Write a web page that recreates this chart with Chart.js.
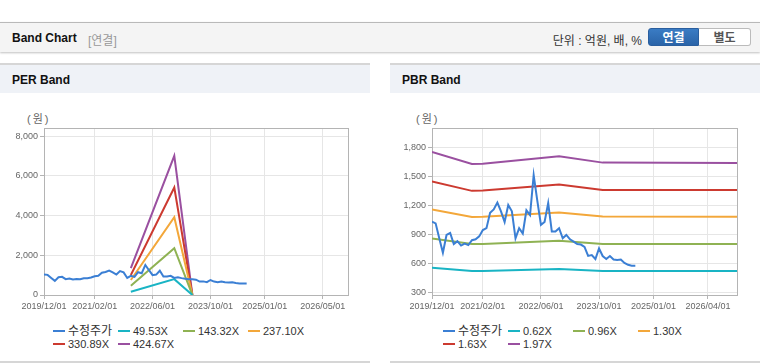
<!DOCTYPE html>
<html>
<head>
<meta charset="utf-8">
<script src="https://cdn.jsdelivr.net/npm/chart.js@4.4.1/dist/chart.umd.min.js"></script>
<style>
body { margin: 0; width: 760px; height: 364px; position: relative; overflow: hidden; background: #fff;
  font-family: 'Liberation Sans', 'Noto Sans CJK KR', sans-serif; }
.top { position: absolute; left: 0; top: 22px; width: 760px; height: 29px; background: #f4f4f4;
  border-top: 1px solid #b9b9b9; box-shadow: 0 1px 2px rgba(0,0,0,0.25); }
.top .title { position: absolute; left: 12px; top: 8px; font-size: 12px; font-weight: bold; color: #111; }
.top .sub { position: absolute; left: 88px; top: 8px; font-size: 12px; color: #999; }
.top .unit { position: absolute; right: 118px; top: 8px; font-size: 12px; color: #333; }
.btn { position: absolute; top: 5px; height: 18px; width: 51px; font-size: 12px; font-weight: bold;
  text-align: center; line-height: 18px; box-sizing: border-box; }
.btn.on { left: 648px; background: linear-gradient(#3a7cc4, #2a64a8); color: #fff; border: 1px solid #2a5e9e;
  border-radius: 3px 0 0 3px; }
.btn.off { left: 699px; background: #fff; color: #555; border: 1px solid #bbb; border-left: none;
  border-radius: 0 3px 3px 0; width: 52px; }
.panel { position: absolute; top: 63px; height: 298px; border-bottom: 2px solid #d6d6d6; }
.panel .hd { position: absolute; left: 0; top: 0; right: 0; height: 28px; background: #eff2f7;
  border-top: 2px solid #d6d6d6; }
.panel .hd span { position: absolute; left: 12px; top: 8px; font-size: 12px; font-weight: bold; color: #111; }
.unitlbl { position: absolute; top: 110px; font-size: 11px; color: #666; letter-spacing: 2px; }
canvas { position: absolute; top: 100px; }
.lg { position: absolute; font-size: 11px; color: #333; white-space: nowrap; height: 14px; line-height: 14px; }
.lg b { font-weight: normal; font-size: 12px; }
.lg i { display: inline-block; width: 12px; height: 2px; vertical-align: middle; margin-right: 3px; position: relative; top: -1px; }
</style>
</head>
<body>
<div class="top">
  <span class="title">Band Chart</span><span class="sub">[연결]</span>
  <span class="unit">단위 : 억원, 배, %</span>
  <div class="btn on">연결</div><div class="btn off">별도</div>
</div>
<div class="panel" style="left:0;width:370px"><div class="hd"><span>PER Band</span></div></div>
<div class="panel" style="left:390px;width:370px"><div class="hd"><span>PBR Band</span></div></div>
<div class="unitlbl" style="left:27px">(원)</div>
<div class="unitlbl" style="left:416px">(원)</div>
<canvas id="per" width="370" height="220" style="left:0"></canvas>
<canvas id="pbr" width="370" height="220" style="left:390px"></canvas>
<div id="legends"></div>
<script>
// months counted from 2019/12/01
const priceValues = [1032, 1015, 860, 711, 895, 915, 800, 830, 785, 805, 790, 840, 850, 880, 945, 965,
  1125, 1160, 1230, 1140, 1030, 1205, 1140, 860, 965, 910, 1150, 1100, 1516, 1250, 1000, 1030, 1225,
  930, 930, 965, 860, 895, 850, 825, 800, 795, 770, 678, 686, 645, 756, 676, 645, 676, 640, 636, 640,
  605, 585, 576, 576];

const perBandMonths = [24, 36, 41];
const per4953 = [165, 800, 0];
const per14332 = [470, 2360, 0];
const per23710 = [758, 3920, 0];
const per33089 = [1010, 5420, 0];
const per42467 = [1350, 7020, 0];

const pbrBandMonths = [0, 11, 14, 35, 47, 84];
const pbr062 = [555, 521, 522, 542, 522, 521];
const pbr096 = [858, 800, 801, 834, 802, 800];
const pbr130 = [1160, 1082, 1084, 1128, 1086, 1083];
const pbr163 = [1450, 1352, 1356, 1418, 1362, 1360];
const pbr197 = [1755, 1630, 1632, 1710, 1645, 1641];

const perTickMonths = [0, 14, 30, 46, 61, 77];
const perTickLabels = ['2019/12/01', '2021/02/01', '2022/06/01', '2023/10/01', '2025/01/01', '2026/05/01'];
const pbrTickMonths = [0, 14, 30, 46, 61, 76];
const pbrTickLabels = ['2019/12/01', '2021/02/01', '2022/06/01', '2023/10/01', '2025/01/01', '2026/04/01'];

const perYTicks = [0, 2000, 4000, 6000, 8000];
const pbrYTicks = [300, 600, 900, 1200, 1500, 1800];

const perNames = ['수정주가', '49.53X', '143.32X', '237.10X', '330.89X', '424.67X'];
const pbrNames = ['수정주가', '0.62X', '0.96X', '1.30X', '1.63X', '1.97X'];
const colors = ['#3b7fd4', '#19b4c4', '#8fb253', '#f3a73a', '#cc3a30', '#9a50a0'];

Chart.defaults.font.family = "'Liberation Sans', 'Noto Sans CJK KR', sans-serif";
Chart.defaults.font.size = 9;
Chart.defaults.color = '#666';

const pts = (xs, ys) => ys.map((v, i) => ({ x: xs[i], y: v }));

const boxPlugin = {
  id: 'box',
  beforeDatasetsDraw(chart) {
    const a = chart.chartArea, ctx = chart.ctx;
    ctx.save();
    ctx.strokeStyle = '#b4b4b4';
    ctx.lineWidth = 1;
    ctx.strokeRect(Math.round(a.left) + 0.5, Math.round(a.top) + 0.5,
      Math.round(a.right - a.left), Math.round(a.bottom - a.top));
    ctx.restore();
  }
};

function makeChart(id, series, names, tickMonths, tickLabels, yTicks, yMin, yMax, yWidth, padRight) {
  const datasets = series.map((s, i) => ({
    label: names[i],
    data: s,
    borderColor: colors[i],
    backgroundColor: colors[i],
    borderWidth: 2,
    pointRadius: 0,
    tension: 0,
    fill: false
  }));
  return new Chart(document.getElementById(id), {
    type: 'line',
    data: { datasets },
    plugins: [boxPlugin],
    options: {
      responsive: false,
      animation: false,
      devicePixelRatio: 1,
      layout: { padding: { top: 28, right: padRight, left: 0, bottom: 0 } },
      plugins: { legend: { display: false }, tooltip: { enabled: false } },
      scales: {
        x: {
          type: 'linear', min: 0, max: 84,
          afterBuildTicks: s => { s.ticks = tickMonths.map(v => ({ value: v })); },
          afterFit: s => { s.height = 25; },
          grid: { color: '#e6e6e6', tickColor: '#b4b4b4', tickLength: 4 },
          border: { display: false },
          ticks: { autoSkip: false, maxRotation: 0, padding: 2, color: '#666',
            callback: v => tickLabels[tickMonths.indexOf(v)] }
        },
        y: {
          min: yMin, max: yMax,
          afterBuildTicks: s => { s.ticks = yTicks.map(v => ({ value: v })); },
          afterFit: s => { s.width = yWidth; },
          grid: { color: '#e6e6e6', tickColor: '#b4b4b4', tickLength: 4 },
          border: { display: false },
          ticks: { padding: 2, color: '#666', callback: v => v.toLocaleString('en-US') }
        }
      }
    }
  });
}

const priceData = priceValues.map((v, i) => ({ x: i, y: v }));

makeChart('per', [priceData, pts(perBandMonths, per4953), pts(perBandMonths, per14332),
  pts(perBandMonths, per23710), pts(perBandMonths, per33089), pts(perBandMonths, per42467)],
  perNames, perTickMonths, perTickLabels, perYTicks, 0, 8420, 44, 22);

makeChart('pbr', [priceData, pts(pbrBandMonths, pbr062), pts(pbrBandMonths, pbr096),
  pts(pbrBandMonths, pbr130), pts(pbrBandMonths, pbr163), pts(pbrBandMonths, pbr197)],
  pbrNames, pbrTickMonths, pbrTickLabels, pbrYTicks, 272, 2004, 42, 23);

// html legends
const lg = document.getElementById('legends');
[[perNames, 53], [pbrNames, 443]].forEach(([names, base]) => {
  names.forEach((n, i) => {
    const d = document.createElement('div');
    d.className = 'lg';
    d.style.left = (base + (i % 4) * 65) + 'px';
    d.style.top = (324 + Math.floor(i / 4) * 13) + 'px';
    const txt = i === 0 ? '<b>' + n + '</b>' : n;
    d.innerHTML = '<i style="background:' + colors[i] + '"></i>' + txt;
    lg.appendChild(d);
  });
});
</script>
</body>
</html>
